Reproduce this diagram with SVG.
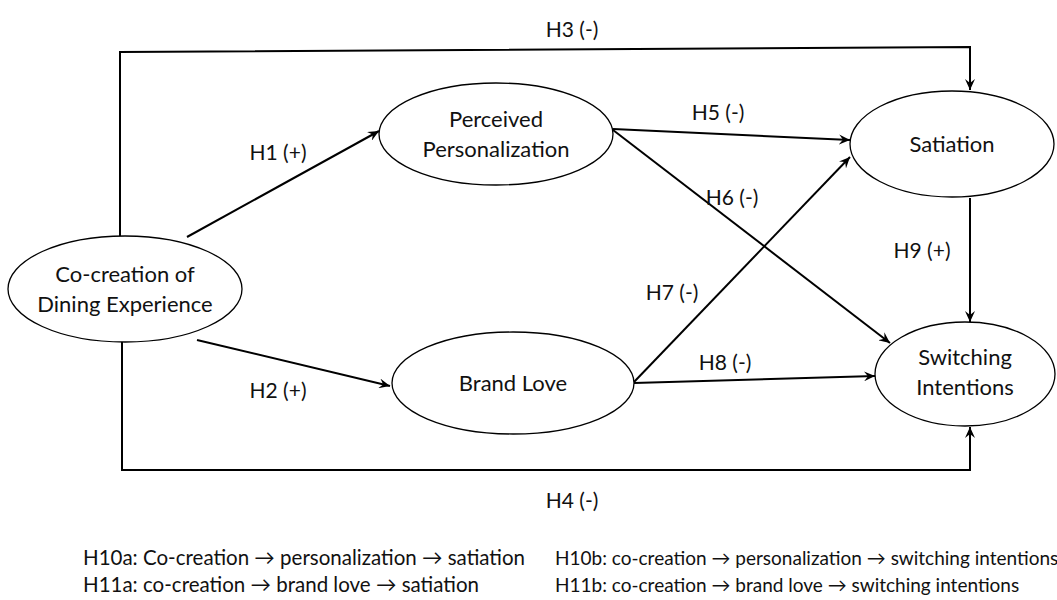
<svg xmlns="http://www.w3.org/2000/svg" width="1057" height="600" viewBox="0 0 1057 600">
<defs>
<marker id="ah" markerWidth="12" markerHeight="10" refX="11" refY="5" orient="auto" markerUnits="userSpaceOnUse">
<path d="M0,0 L11,5 L0,10 L4,5 Z" fill="#000"/>
</marker>
</defs>
<style>
.n{fill:#fff;stroke:#000;stroke-width:1.3}
.t{font-family:Lato,"Open Sans",sans-serif;font-size:22px;fill:#111;text-anchor:middle}
.l{font-family:Lato,"Open Sans",sans-serif;font-size:21px;fill:#111;text-anchor:middle}
.b{font-family:Lato,"Open Sans",sans-serif;font-size:20.5px;fill:#111}
.r{font-family:Lato,"Open Sans",sans-serif;font-size:19px;fill:#111}
.c{fill:none;stroke:#000;stroke-width:2}
</style>
<rect width="1057" height="600" fill="#fff"/>
<g id="connectors">
<polyline class="c" points="120,236 120,52 970,47 970,90" marker-end="url(#ah)"/>
<polyline class="c" points="122,340 122,470 970,470 970,427" marker-end="url(#ah)"/>
<line class="c" x1="187" y1="237" x2="379" y2="131" marker-end="url(#ah)"/>
<line class="c" x1="197" y1="340" x2="390" y2="386" marker-end="url(#ah)"/>
<line class="c" x1="613" y1="129" x2="850" y2="140" marker-end="url(#ah)"/>
<line class="c" x1="613" y1="130" x2="890" y2="343" marker-end="url(#ah)"/>
<line class="c" x1="634" y1="382" x2="850" y2="157" marker-end="url(#ah)"/>
<line class="c" x1="634" y1="383" x2="875" y2="376" marker-end="url(#ah)"/>
<line class="c" x1="970" y1="198" x2="970" y2="322" marker-end="url(#ah)"/>
</g>
<g id="labels">
<text class="l" x="572" y="37">H3 (-)</text>
<text class="l" x="278" y="160">H1 (+)</text>
<text class="l" x="278" y="398">H2 (+)</text>
<text class="l" x="718" y="120">H5 (-)</text>
<text class="l" x="732" y="205">H6 (-)</text>
<text class="l" x="672" y="300">H7 (-)</text>
<text class="l" x="725" y="370">H8 (-)</text>
<text class="l" x="922" y="258">H9 (+)</text>
<text class="l" x="572" y="508">H4 (-)</text>
</g>
<g id="cocreation">
<ellipse class="n" cx="125" cy="289" rx="117" ry="53"/>
<text class="t" x="125" y="282">Co-creation of</text>
<text class="t" x="125" y="312">Dining Experience</text>
</g>
<g id="personalization">
<ellipse class="n" cx="496" cy="134" rx="117" ry="51"/>
<text class="t" x="496" y="127">Perceived</text>
<text class="t" x="496" y="157">Personalization</text>
</g>
<g id="satiation">
<ellipse class="n" cx="952" cy="144" rx="102" ry="53"/>
<text class="t" x="952" y="152">Satiation</text>
</g>
<g id="brandlove">
<ellipse class="n" cx="513" cy="383" rx="121" ry="51"/>
<text class="t" x="513" y="391">Brand Love</text>
</g>
<g id="switching">
<ellipse class="n" cx="965" cy="374" rx="90" ry="52"/>
<text class="t" x="965" y="365">Switching</text>
<text class="t" x="965" y="395">Intentions</text>
</g>
<g id="notes">
<text class="b" x="83" y="565">H10a: Co-creation → personalization → satiation</text>
<text class="b" x="83" y="592">H11a: co-creation → brand love → satiation</text>
<text class="r" x="555" y="565">H10b: co-creation → personalization → switching intentions</text>
<text class="r" x="555" y="592">H11b: co-creation → brand love → switching intentions</text>
</g>
</svg>
